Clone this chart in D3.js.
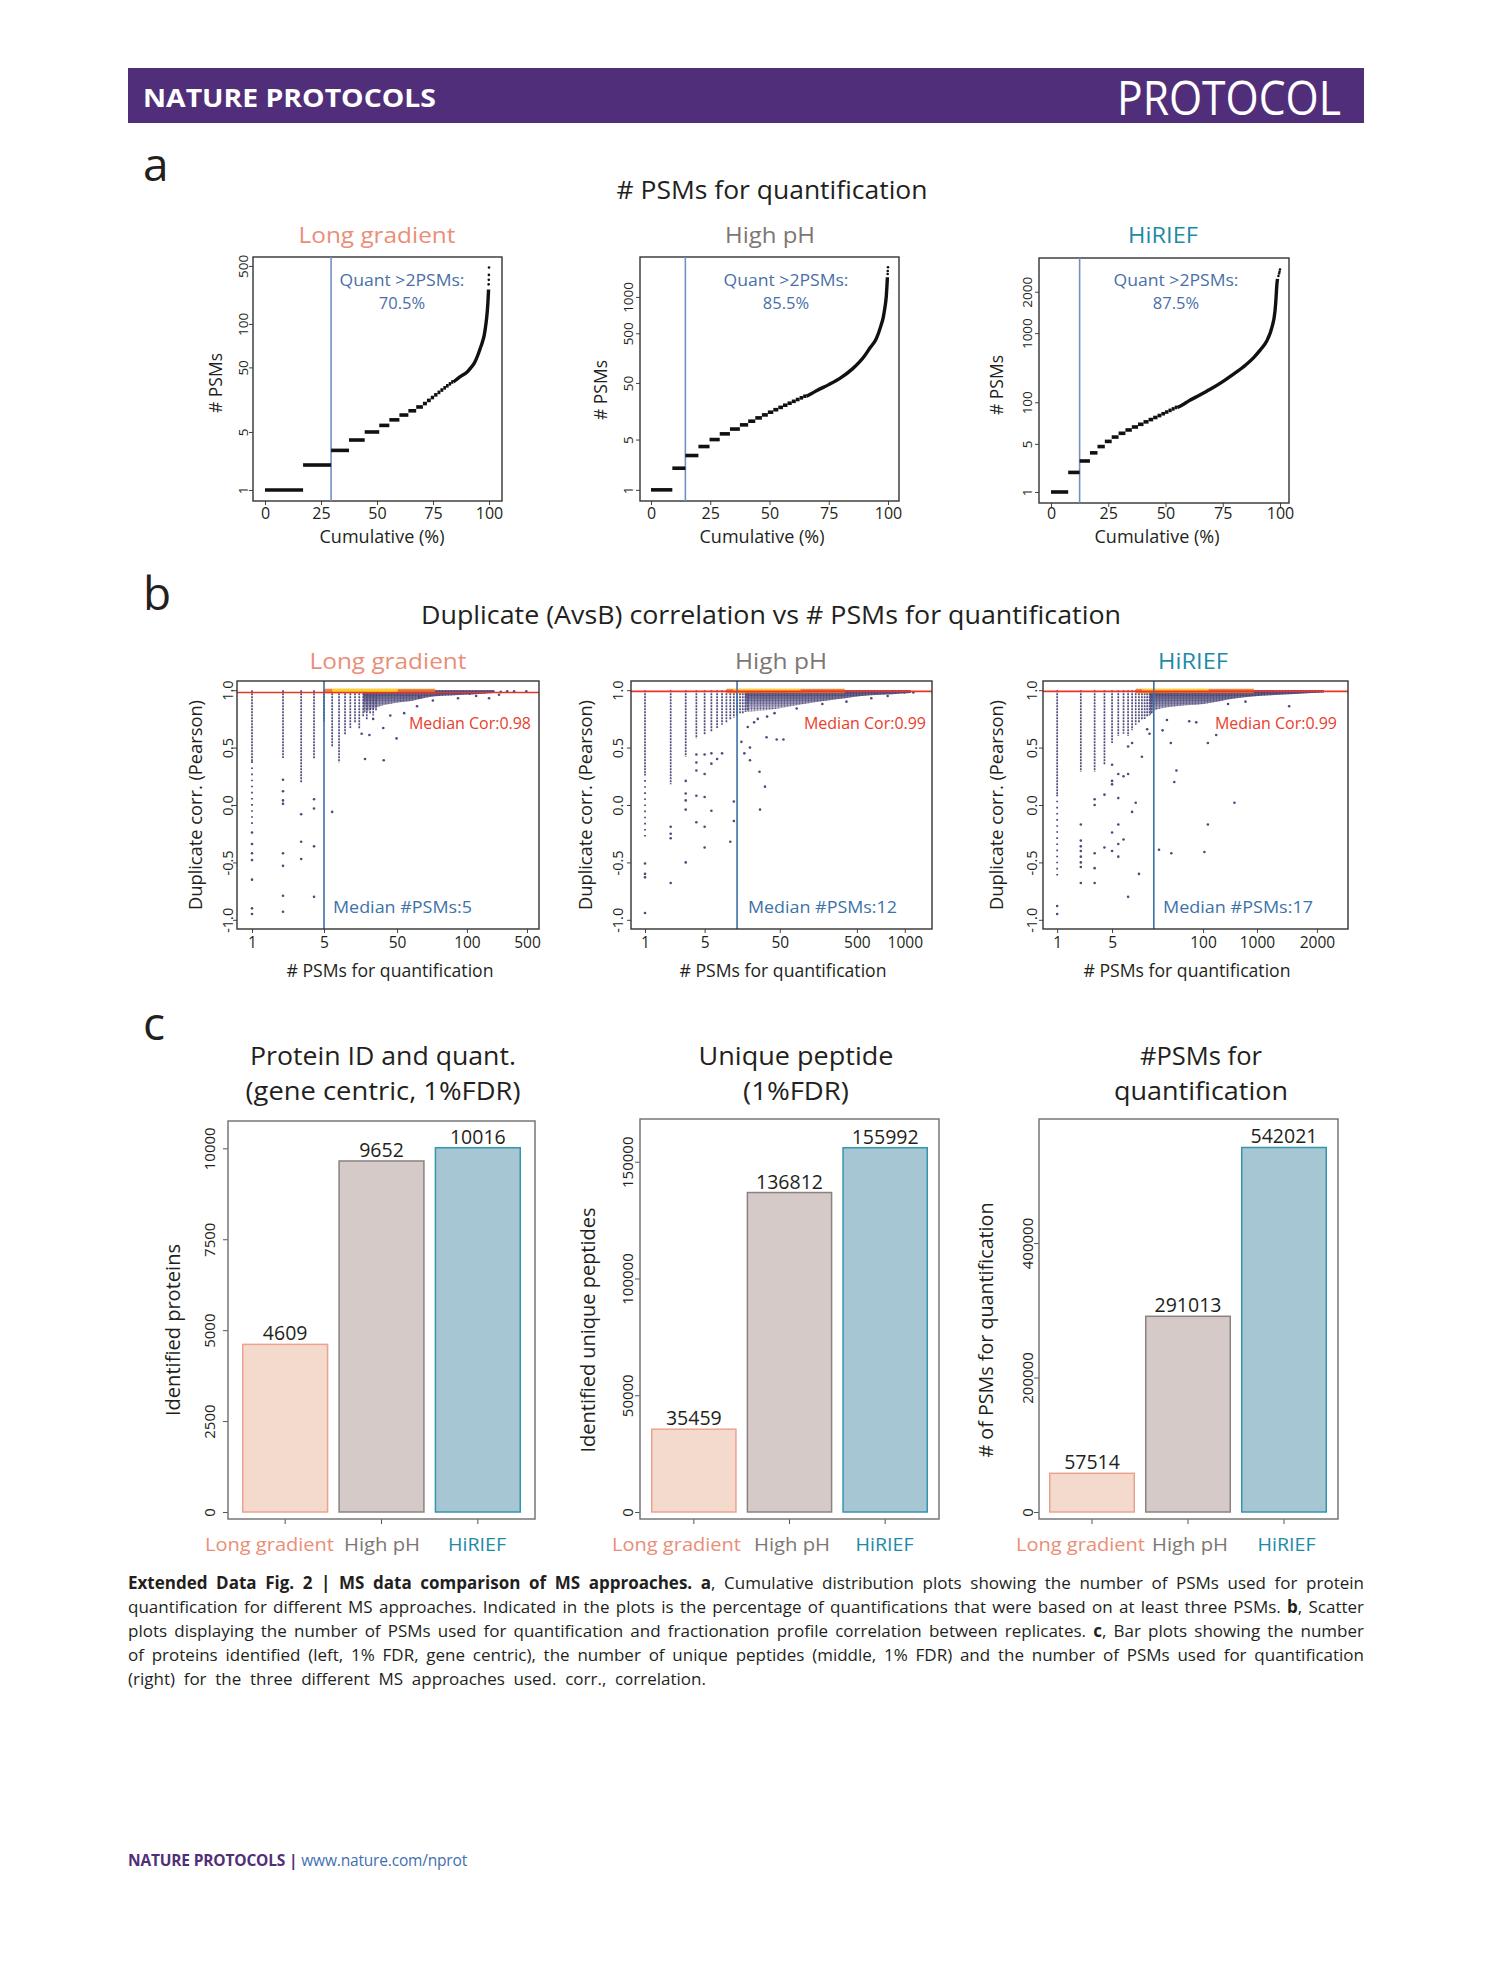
<!DOCTYPE html>
<html><head><meta charset="utf-8">
<script src="https://cdn.jsdelivr.net/npm/d3@7"></script>
<style>
body{margin:0;background:#fff}
svg{display:block}
text{font-family:'Open Sans','Noto Sans',sans-serif}
</style>
</head><body>
<svg id="fig" width="1489" height="1978"></svg>
<script>
// ---------------- DATA ----------------
const methods = ["Long gradient", "High pH", "HiRIEF"];
const methodColors = ["#EA8E78", "#7E7673", "#1C8BA6"];

// panel a : cumulative distribution of #PSMs
const aQuantPct = ["70.5%", "85.5%", "87.5%"];
const aCutoff = [29.5, 14.5, 12.5];
const aXTicks = [0, 25, 50, 75, 100];
const aStepLevels = [1,2,3,4,5,6,7,8,9,10,11,12,13,14,15,16,17,18,19,20];
const aStepEnd_LG = [17, 29.5, 37.5, 44.5, 51, 55.5, 60, 64, 67.5, 70.5, 72.3, 74, 75.5, 77, 78.3, 79.6, 80.8, 82, 83.1, 84.1];
const aStepEnd_HP = [9, 14.5, 20, 24.7, 29, 33.3, 37.5, 41, 44, 46.8, 49.3, 51.6, 53.7, 55.7, 57.6, 59.4, 61.1, 62.7, 64.2, 65.6];
const aStepEnd_HR = [7.5, 12.5, 17, 20.3, 23.5, 26.5, 29.5, 32.5, 35.3, 38, 40.4, 42.6, 44.6, 46.5, 48.2, 49.8, 51.3, 52.7, 54, 55.2];
const aTail_LG = [[84.1,20],[86,22],[88,24],[90,26],[92,30],[93.5,34],[95,42],[96,50],[97,60],[97.8,72],[98.4,90],[98.9,115],[99.3,150],[99.6,200],[99.8,260]];
const aTail_HP = [[65.6,20],[68,22],[70,24],[75,29],[80,36],[85,48],[88,60],[90,72],[92.5,95],[95,125],[97,190],[98,250],[98.6,325],[99.3,500],[99.6,725],[99.75,900]];
const aTail_HR = [[55.2,20],[57.5,22],[60,25],[65,31],[69.5,38],[75,50],[79.7,65],[85,90],[88.4,116],[91.5,155],[94.2,210],[96.4,335],[97.8,600],[98.3,1000],[98.6,1500],[98.9,1900]];
const aTop_LG = [[99.85,300],[99.9,340],[99.95,390],[100,480]];
const aTop_HP = [[99.85,1000],[99.9,1100],[100,1240]];
const aTop_HR = [[99.3,2100],[99.6,2300],[99.8,2450],[100,2650]];
const aYTickVals_LG = [1, 5, 30, 100, 500];
const aYTickLbl_LG = ["1", "5", "50", "100", "500"];
const aYTickVals_HP = [1, 5, 30.6, 150, 480];
const aYTickLbl_HP = ["1", "5", "50", "500", "1000"];
const aYTickVals_HR = [1, 5.5, 24, 278, 1205];
const aYTickLbl_HR = ["1", "5", "100", "1000", "2000"];

// panel b : duplicate correlation vs #PSMs
const bMedianPsm = [5, 12, 17];
const bMedianCor = [0.98, 0.99, 0.99];
const bYTicks = [-1, -0.5, 0, 0.5, 1];
const bYTickLbl = ["-1.0", "-0.5", "0.0", "0.5", "1.0"];
const bCols = [1,2,3,4,5,6,7,8,9,10,11,12,13,14,15,16];
const bDense_LG = [0.38, 0.41, 0.19, 0.40, 0.73, 0.51, 0.37, 0.61, 0.67, 0.72, 0.66, 0.77, 0.74, 0.80, 0.78, 0.82];
const bDense_HP = [0.27, 0.18, 0.42, 0.58, 0.61, 0.64, 0.67, 0.70, 0.72, 0.74, 0.76, 0.78, 0.79, 0.80, 0.81, 0.82];
const bDense_HR = [0.09, 0.29, 0.29, 0.35, 0.54, 0.60, 0.62, 0.60, 0.65, 0.70, 0.72, 0.74, 0.75, 0.77, 0.78, 0.79];
const bSparse_LG = [-0.19, null, null, null, null, null, null, null, null, null, null, null, null, null, null, null];
const bSparse_HP = [-0.31, null, null, null, null, null, null, null, null, null, null, null, null, null, null, null];
const bSparse_HR = [-0.65, null, null, null, null, null, null, null, null, null, null, null, null, null, null, null];
const bOut_LG = [[1,-0.24],[1,-0.34],[1,-0.42],[1,-0.48],[1,-0.65],[1,-0.9],[1,-0.95],
  [2,0.22],[2,0.12],[2,0.04],[2,0.01],[2,-0.42],[2,-0.53],[2,-0.79],[2,-0.93],
  [3,-0.08],[3,-0.32],[3,-0.47],[4,0.05],[4,-0.03],[4,-0.36],[4,-0.8],[6,-0.06],
  [12.5,0.40],[19,0.39],[25.3,0.58],[11.6,0.62],[13.8,0.61],[18.8,0.67],[15,0.75],[22,0.78],
  [30,0.80],[42,0.94],[57,0.91],[40,0.86],[100,0.93],[150,0.95],[130,0.97],[180,0.98],
  [220,0.99],[260,0.985],[300,0.99],[350,0.99],[460,0.99],[200,0.93],[250,0.96]];
const bOut_HP = [[1,-0.51],[1,-0.6],[1,-0.63],[1,-0.94],
  [2,-0.19],[2,-0.25],[2,-0.29],[2,-0.68],[3,0.21],[3,0.10],[3,0.04],[3,-0.04],[3,-0.5],
  [4,0.44],[4,0.37],[4,0.30],[4,0.08],[4,-0.15],[5,0.44],[5,0.27],[5,0.07],[5,-0.19],[5,-0.37],
  [6,0.45],[6,0.36],[6,-0.05],[7,0.40],[8,0.45],[10,-0.32],[11,0.03],[11,-0.14],
  [13.5,0.55],[14.6,0.45],[17,0.5],[17,0.39],[22,0.29],[25.5,0.16],[22.3,-0.04],[26.6,0.59],
  [35,0.57],[42,0.57],[16,0.68],[19,0.72],[21,0.75],[27,0.77],[33,0.80],[60,0.84],[120,0.88],
  [230,0.9],[450,0.93],[700,0.95],[1100,0.98],[1400,0.98]];
const bOut_HR = [[1,-0.88],[1,-0.95],
  [2,-0.17],[2,-0.31],[2,-0.36],[2,-0.40],[2,-0.45],[2,-0.5],[2,-0.54],[2,-0.68],
  [3,0.05],[3,0.0],[3,-0.42],[3,-0.55],[3,-0.68],[4,0.09],[4,-0.37],
  [5,0.35],[5,0.21],[5,0.18],[5,-0.24],[5,-0.40],[6,0.27],[6,0.06],[6,-0.17],[6,-0.34],[6,-0.45],
  [7,0.25],[7,-0.3],[8,0.51],[8,0.27],[8,-0.8],[9,0.54],[9,-0.06],[10,0.02],[11,-0.6],[12,0.42],
  [19.8,-0.39],[28.4,-0.42],[75,-0.41],[83,-0.17],[181,0.02],[33,0.3],[31,0.2],[28,0.54],
  [83,0.54],[106,0.61],[900,0.86],[48,0.73],[59,0.72],[22,0.65],[25,0.74],[150,0.88],[250,0.9],
  [15,0.62],[14,0.66]];
const bFan_LG = [[12,0.80],[17.5,0.86],[25,0.89],[37,0.91],[53,0.94],[90,0.955],[150,0.965],[220,0.975]];
const bFan_HP = [[15,0.81],[29,0.83],[72,0.88],[177,0.92],[430,0.955],[800,0.965],[1300,0.975]];
const bFan_HR = [[15,0.78],[18.3,0.83],[33,0.86],[72,0.88],[190,0.93],[500,0.955],[1200,0.97],[2500,0.98]];
const bHot_LG = [5, 60];
const bHot_HP = [9, 220];
const bHot_HR = [10, 320];
const bXTickVals_LG = [1, 5, 25.6, 122, 467];
const bXTickLbl_LG = ["1", "5", "50", "100", "500"];
const bXTickVals_HP = [1, 5, 38, 305, 1110];
const bXTickLbl_HP = ["1", "5", "50", "500", "1000"];
const bXTickVals_HR = [1, 5, 72, 350, 2030];
const bXTickLbl_HR = ["1", "5", "100", "1000", "2000"];

// panel c : bar plots
const cProteins = [4609, 9652, 10016];
const cPeptides = [35459, 136812, 155992];
const cPsms = [57514, 291013, 542021];
const cYTicks_P = [0, 2500, 5000, 7500, 10000];
const cYTicks_U = [0, 50000, 100000, 150000];
const cYTicks_Q = [0, 200000, 400000];
const barFill = ["#F4D9CD", "#D5CAC8", "#A7C6D3"];
const barStroke = ["#EBA38E", "#8A8280", "#3495AE"];

// ---------------- DRAWING ----------------
const svg = d3.select("#fig");
const INK = "#231F20";
function T(g, x, y, s, o = {}) {
  const t = g.append("text").attr("x", x).attr("y", y).text(s)
    .attr("font-size", o.size || 16).attr("fill", o.fill || INK)
    .attr("text-anchor", o.anchor || "middle");
  if (o.weight) t.attr("font-weight", o.weight);
  if (o.family) t.attr("font-family", o.family);
  if (o.len) t.attr("textLength", o.len).attr("lengthAdjust", "spacingAndGlyphs");
  if (o.rot) t.attr("transform", `rotate(${o.rot},${x},${y})`);
  return t;
}

// header
svg.append("rect").attr("x", 128).attr("y", 68).attr("width", 1236).attr("height", 55).attr("fill", "#512E7A");
T(svg, 143, 107, "NATURE PROTOCOLS", {anchor: "start", size: 25, weight: "bold", fill: "#fff", family: "'Liberation Sans Narrow','DejaVu Sans Condensed',sans-serif", len: 293});
T(svg, 1341, 115, "PROTOCOL", {anchor: "end", size: 47, fill: "#fff", family: "'Liberation Sans Narrow','DejaVu Sans Condensed',sans-serif", len: 224});

// panel letters
T(svg, 143, 181, "a", {anchor: "start", size: 46});
T(svg, 143, 610, "b", {anchor: "start", size: 46});
T(svg, 143, 1040, "c", {anchor: "start", size: 46});

// section titles
T(svg, 772, 199, "# PSMs for quantification", {size: 26, len: 311});
T(svg, 771, 624, "Duplicate (AvsB) correlation vs # PSMs for quantification", {size: 26, len: 700});

// ---------- panel a ----------
const aLayout = [
  {L:253, R:502, T:257, B:501, x0:265, x100:489, yDom:[0.737,641], subX:377, subW:157, qX:402, yLblX:243, yTitX:222, yTitY:383, cumX:382},
  {L:640, R:899, T:257, B:501, x0:651, x100:888, yDom:[0.70,1722], subX:770, subW:90, qX:786, yLblX:628, yTitX:607, yTitY:390, cumX:762},
  {L:1039, R:1289, T:258, B:503, x0:1051, x100:1280, yDom:[0.677,3981], subX:1163, subW:70, qX:1176, yLblX:1027, yTitX:1003, yTitY:385, cumX:1157}
];
const aSteps = [aStepEnd_LG, aStepEnd_HP, aStepEnd_HR];
const aTails = [aTail_LG, aTail_HP, aTail_HR];
const aTops = [aTop_LG, aTop_HP, aTop_HR];
const aYT = [[aYTickVals_LG, aYTickLbl_LG], [aYTickVals_HP, aYTickLbl_HP], [aYTickVals_HR, aYTickLbl_HR]];

aLayout.forEach((p, i) => {
  const g = svg.append("g");
  const x = d3.scaleLinear().domain([0, 100]).range([p.x0, p.x100]);
  const y = d3.scaleLog().domain(p.yDom).range([p.B, p.T]);
  T(g, p.subX, 243, methods[i], {size: 22, fill: methodColors[i], len: p.subW});
  const xa = g.append("g").attr("transform", `translate(0,${p.B})`)
    .call(d3.axisBottom(x).tickValues(aXTicks).tickSize(4).tickFormat(d3.format("d")));
  xa.select(".domain").remove();
  xa.selectAll("line").attr("stroke", "#444");
  xa.selectAll("text").attr("font-size", 16).attr("fill", INK).attr("dy", null).attr("y", 519 - p.B);
  const ya = g.append("g").attr("transform", `translate(${p.L},0)`)
    .call(d3.axisLeft(y).tickValues(aYT[i][0]).tickSize(4).tickFormat((d, k) => aYT[i][1][k]));
  ya.select(".domain").remove();
  ya.selectAll("line").attr("stroke", "#444");
  ya.selectAll("text").attr("font-size", 13.5).attr("fill", INK).attr("x", null).attr("text-anchor", "middle")
    .attr("transform", `translate(${p.yLblX - p.L},0) rotate(-90)`).attr("y", 0).attr("dy", "0.35em");
  g.append("rect").attr("x", p.L).attr("y", p.T).attr("width", p.R - p.L).attr("height", p.B - p.T)
    .attr("fill", "none").attr("stroke", "#333").attr("stroke-width", 1.4);
  T(g, p.cumX, 543, "Cumulative (%)", {size: 17.5, len: 125});
  T(g, p.yTitX, p.yTitY, "# PSMs", {size: 17.5, rot: -90});
  g.append("line").attr("x1", x(aCutoff[i])).attr("x2", x(aCutoff[i])).attr("y1", p.T).attr("y2", p.B)
    .attr("stroke", "#7390C2").attr("stroke-width", 1.6);
  const ends = aSteps[i];
  g.selectAll("line.step").data(aStepLevels).enter().append("line").attr("class", "step")
    .attr("x1", (d, k) => x(k === 0 ? 0 : ends[k - 1]))
    .attr("x2", (d, k) => x(ends[k]))
    .attr("y1", d => y(d)).attr("y2", d => y(d))
    .attr("stroke", "#111").attr("stroke-width", 3.6);
  g.append("path").datum(aTails[i])
    .attr("d", d3.line().x(d => x(d[0])).y(d => y(d[1])).curve(d3.curveMonotoneX))
    .attr("fill", "none").attr("stroke", "#111").attr("stroke-width", 3.4);
  g.selectAll("circle.top").data(aTops[i]).enter().append("circle")
    .attr("cx", d => x(d[0])).attr("cy", d => y(d[1])).attr("r", 1.3).attr("fill", "#111");
  T(g, p.qX, 286, "Quant >2PSMs:", {size: 16.5, fill: "#4A70A8", len: 125});
  T(g, p.qX, 309, aQuantPct[i], {size: 16.5, fill: "#4A70A8"});
});

// ---------- panel b ----------
const bLayout = [
  {L:237, R:539, T:681, B:929, xDom:[0.715,611], subX:388, yLblX:228, yTitX:202, xTitX:390, corX:531, psmX:333, psmW:139},
  {L:631, R:932, T:681, B:929, xDom:[0.685,2316], subX:781, yLblX:618, yTitX:592, xTitX:783, corX:926, psmX:748, psmW:149},
  {L:1043, R:1348, T:681, B:929, xDom:[0.66,5050], subX:1193, yLblX:1032, yTitX:1003, xTitX:1187, corX:1337, psmX:1163, psmW:150}
];
const bDense = [bDense_LG, bDense_HP, bDense_HR];
const bSparse = [bSparse_LG, bSparse_HP, bSparse_HR];
const bOut = [bOut_LG, bOut_HP, bOut_HR];
const bFan = [bFan_LG, bFan_HP, bFan_HR];
const bHot = [bHot_LG, bHot_HP, bHot_HR];
const bXT = [[bXTickVals_LG, bXTickLbl_LG], [bXTickVals_HP, bXTickLbl_HP], [bXTickVals_HR, bXTickLbl_HR]];
const subW_b = [157, 92, 70];

const defs = svg.append("defs");
const grad = defs.append("linearGradient").attr("id", "fanGrad").attr("x1", 0).attr("y1", 0).attr("x2", 0).attr("y2", 1);
grad.append("stop").attr("offset", "0%").attr("stop-color", "#3E386C").attr("stop-opacity", 0.95);
grad.append("stop").attr("offset", "50%").attr("stop-color", "#4E4A7B").attr("stop-opacity", 0.65);
grad.append("stop").attr("offset", "100%").attr("stop-color", "#6E6A98").attr("stop-opacity", 0.25);
const pat = defs.append("pattern").attr("id", "dots").attr("patternUnits", "userSpaceOnUse")
  .attr("width", 3).attr("height", 2.6);
pat.append("circle").attr("cx", 1.5).attr("cy", 1.3).attr("r", 0.85).attr("fill", "#4E4A7B");

const PT = "#4E4A7B";
bLayout.forEach((p, i) => {
  const g = svg.append("g");
  const clip = "clipb" + i;
  defs.append("clipPath").attr("id", clip).append("rect")
    .attr("x", p.L).attr("y", p.T).attr("width", p.R - p.L).attr("height", p.B - p.T);
  const x = d3.scaleLog().domain(p.xDom).range([p.L, p.R]);
  const y = d3.scaleLinear().domain([-1.08, 1.08]).range([p.B, p.T]);
  T(g, p.subX, 669, methods[i], {size: 22, fill: methodColors[i], len: subW_b[i]});
  const plot = g.append("g").attr("clip-path", `url(#${clip})`);
  const fanArea = d3.area().x(d => x(d[0])).y0(d => y(d[1])).y1(y(1.0)).curve(d3.curveMonotoneX);
  plot.append("path").datum(bFan[i]).attr("d", fanArea).attr("fill", "url(#dots)");
  plot.append("path").datum(bFan[i]).attr("d", fanArea).attr("fill", "url(#fanGrad)");
  plot.selectAll("line.dense").data(bCols).enter().append("line")
    .attr("x1", d => x(d)).attr("x2", d => x(d))
    .attr("y1", y(1.0)).attr("y2", (d, k) => y(bDense[i][k]))
    .attr("stroke", PT).attr("stroke-width", 1.7).attr("stroke-dasharray", "2 1");
  plot.selectAll("line.sparse").data(bCols.filter((d, k) => bSparse[i][k] !== null)).enter().append("line")
    .attr("x1", d => x(d)).attr("x2", d => x(d))
    .attr("y1", d => y(bDense[i][bCols.indexOf(d)]))
    .attr("y2", d => y(bSparse[i][bCols.indexOf(d)]))
    .attr("stroke", PT).attr("stroke-width", 1.8).attr("stroke-dasharray", "1.6 4.5");
  plot.selectAll("circle.out").data(bOut[i]).enter().append("circle")
    .attr("cx", d => x(d[0])).attr("cy", d => y(d[1])).attr("r", 1.3).attr("fill", PT);
  const hot = bHot[i];
  plot.append("line").attr("x1", x(hot[0])).attr("x2", x(hot[1])).attr("y1", y(0.992)).attr("y2", y(0.992))
    .attr("stroke", "#EE7A2A").attr("stroke-width", 4.5).attr("stroke-opacity", 0.9);
  plot.append("line").attr("x1", x(hot[0] * 1.2)).attr("x2", x(Math.sqrt(hot[0] * hot[1]) * 1.5)).attr("y1", y(0.997)).attr("y2", y(0.997))
    .attr("stroke", "#FFD21A").attr("stroke-width", 3);
  plot.append("line").attr("x1", x(bMedianPsm[i])).attr("x2", x(bMedianPsm[i])).attr("y1", p.T).attr("y2", p.B)
    .attr("stroke", "#3D6EA6").attr("stroke-width", 1.6);
  plot.append("line").attr("x1", p.L).attr("x2", p.R).attr("y1", y(bMedianCor[i])).attr("y2", y(bMedianCor[i]))
    .attr("stroke", "#E8352A").attr("stroke-width", 1.6);
  const xa = g.append("g").attr("transform", `translate(0,${p.B})`)
    .call(d3.axisBottom(x).tickValues(bXT[i][0]).tickSize(4).tickFormat((d, k) => bXT[i][1][k]));
  xa.select(".domain").remove();
  xa.selectAll("line").attr("stroke", "#444");
  xa.selectAll("text").attr("font-size", 15.5).attr("fill", INK).attr("dy", null).attr("y", 948 - p.B);
  const ya = g.append("g").attr("transform", `translate(${p.L},0)`)
    .call(d3.axisLeft(y).tickValues(bYTicks).tickSize(4).tickFormat((d, k) => bYTickLbl[k]));
  ya.select(".domain").remove();
  ya.selectAll("line").attr("stroke", "#444");
  ya.selectAll("text").attr("font-size", 14.5).attr("fill", INK).attr("x", null).attr("text-anchor", "middle")
    .attr("transform", `translate(${p.yLblX - p.L},0) rotate(-90)`).attr("y", 0).attr("dy", "0.35em");
  g.append("rect").attr("x", p.L).attr("y", p.T).attr("width", p.R - p.L).attr("height", p.B - p.T)
    .attr("fill", "none").attr("stroke", "#333").attr("stroke-width", 1.4);
  T(g, p.xTitX, 977, "# PSMs for quantification", {size: 17.5, len: 207});
  T(g, p.yTitX, 805, "Duplicate corr. (Pearson)", {size: 17.5, rot: -90, len: 210});
  T(g, p.corX, 729, "Median Cor:" + bMedianCor[i].toFixed(2), {anchor: "end", size: 16, fill: "#E8402D", len: 122});
  T(g, p.psmX, 913, "Median #PSMs:" + bMedianPsm[i], {anchor: "start", size: 17, fill: "#3C72A8", len: p.psmW});
});

// ---------- panel c ----------
const cLayout = [
  {L:228, R:535, T:1121, B:1519, bx:[242,521], top:10751, ticks:cYTicks_P, vals:cProteins, t1:"Protein ID and quant.", w1:266, t2:"(gene centric, 1%FDR)", w2:275, tX:383, yLblX:210, yTitle:"Identified proteins", yTitX:180, yTitW:172, catX:[269.5,382,477]},
  {L:640, R:939, T:1119, B:1519, bx:[651,928], top:168300, ticks:cYTicks_U, vals:cPeptides, t1:"Unique peptide", w1:195, t2:"(1%FDR)", w2:106, tX:796, yLblX:628, yTitle:"Identified unique peptides", yTitX:595, yTitW:245, catX:[676.5,792,884.5]},
  {L:1039, R:1338, T:1119, B:1519, bx:[1049,1327], top:584400, ticks:cYTicks_Q, vals:cPsms, t1:"#PSMs for", w1:122, t2:"quantification", w2:174, tX:1201, yLblX:1028, yTitle:"# of PSMs for quantification", yTitX:993, yTitW:255, catX:[1080.5,1190,1286.5]}
];
const catW = [129, 76, 58];

cLayout.forEach((p, i) => {
  const g = svg.append("g");
  const x = d3.scaleBand().domain(methods).range(p.bx).paddingInner(0.104).paddingOuter(0);
  const y = d3.scaleLinear().domain([0, p.top]).range([1512, p.T]);
  T(g, p.tX, 1065, p.t1, {size: 26, len: p.w1});
  T(g, p.tX, 1100, p.t2, {size: 26, len: p.w2});
  g.selectAll("rect.bar").data(p.vals).enter().append("rect")
    .attr("x", (d, k) => x(methods[k]) + 0.75).attr("width", x.bandwidth() - 1.5)
    .attr("y", d => y(d)).attr("height", d => y(0) - y(d))
    .attr("fill", (d, k) => barFill[k]).attr("stroke", (d, k) => barStroke[k]).attr("stroke-width", 1.5);
  g.selectAll("text.val").data(p.vals).enter().append("text")
    .attr("x", (d, k) => x(methods[k]) + x.bandwidth() / 2).attr("y", d => y(d) - 4)
    .attr("text-anchor", "middle").attr("font-size", 19.5).attr("fill", INK).text(d => d);
  const ya = g.append("g").attr("transform", `translate(${p.L},0)`)
    .call(d3.axisLeft(y).tickValues(p.ticks).tickSize(5).tickFormat(d3.format("d")));
  ya.select(".domain").remove();
  ya.selectAll("line").attr("stroke", "#555");
  ya.selectAll("text").attr("font-size", 15).attr("fill", INK).attr("x", null).attr("text-anchor", "middle")
    .attr("transform", `translate(${p.yLblX - p.L},0) rotate(-90)`).attr("y", 0).attr("dy", "0.35em");
  const xa = g.append("g").attr("transform", `translate(0,${p.B})`)
    .call(d3.axisBottom(x).tickSize(5).tickFormat(""));
  xa.select(".domain").remove();
  xa.selectAll("line").attr("stroke", "#555");
  g.append("rect").attr("x", p.L).attr("y", p.T).attr("width", p.R - p.L).attr("height", p.B - p.T)
    .attr("fill", "none").attr("stroke", "#777").attr("stroke-width", 1.5);
  methods.forEach((m, k) => T(g, p.catX[k], 1551, m, {size: 19, fill: methodColors[k], len: catW[k]}));
  T(g, p.yTitX, 1330, p.yTitle, {size: 20.5, rot: -90, len: p.yTitW});
});

// ---------- caption (justified via spacing, no glyph compression) ----------
const capFam = "'Liberation Sans Narrow','DejaVu Sans Condensed','Open Sans',sans-serif";
const capLines = [
  [["Extended Data Fig. 2 | MS data comparison of MS approaches. a", true], [", Cumulative distribution plots showing the number of PSMs used for protein", false]],
  [["quantification for different MS approaches. Indicated in the plots is the percentage of quantifications that were based on at least three PSMs. ", false], ["b", true], [", Scatter", false]],
  [["plots displaying the number of PSMs used for quantification and fractionation profile correlation between replicates. ", false], ["c", true], [", Bar plots showing the number", false]],
  [["of proteins identified (left, 1% FDR, gene centric), the number of unique peptides (middle, 1% FDR) and the number of PSMs used for quantification", false]],
  [["(right) for the three different MS approaches used. corr., correlation.", false]]
];
const capW = [1236, 1236, 1236, 1236, 578];
capLines.forEach((line, k) => {
  const t = svg.append("text").attr("x", 128).attr("y", 1589 + k * 24).attr("font-size", 17)
    .attr("font-family", capFam).attr("fill", INK);
  line.forEach(([s, b]) => t.append("tspan").text(s).attr("font-weight", b ? "bold" : "normal"));
  const full = line.map(d => d[0]).join("");
  const nat = t.node().getComputedTextLength();
  const extra = capW[k] - nat;
  if (extra >= 0) {
    const spaces = (full.match(/ /g) || []).length;
    t.attr("word-spacing", (extra / spaces).toFixed(3));
  } else {
    t.attr("letter-spacing", (extra / full.length).toFixed(3));
  }
});

// footer
const ft = svg.append("text").attr("x", 128).attr("y", 1866).attr("font-size", 15.5).attr("font-family", capFam);
ft.append("tspan").text("NATURE PROTOCOLS").attr("font-weight", "bold").attr("fill", "#512E7A");
ft.append("tspan").text(" | ").attr("font-weight", "bold").attr("fill", "#512E7A");
ft.append("tspan").text("www.nature.com/nprot").attr("fill", "#3F6FB0");
{
  const nat = ft.node().getComputedTextLength();
  ft.attr("letter-spacing", ((339 - nat) / 39).toFixed(3));
}
</script>
</body></html>
